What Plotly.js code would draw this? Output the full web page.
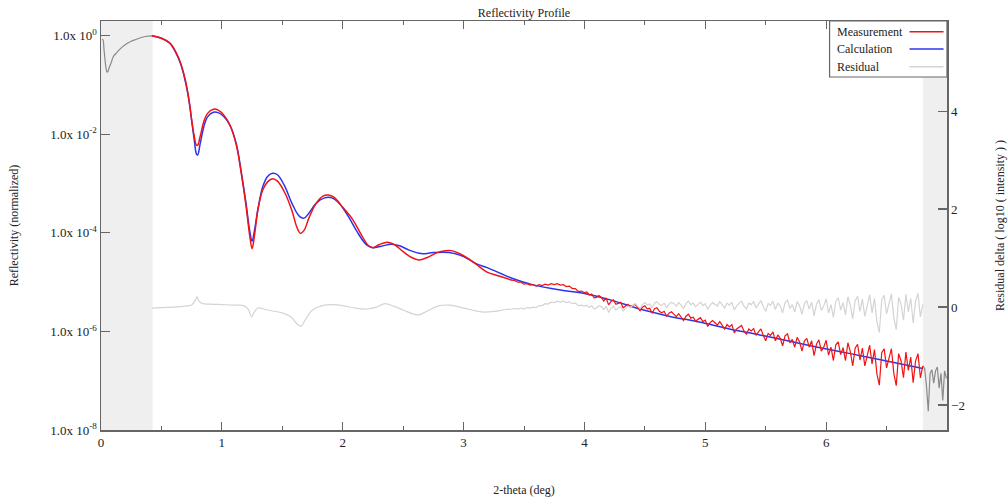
<!DOCTYPE html>
<html>
<head>
<meta charset="utf-8">
<script src="https://cdn.plot.ly/plotly-3.0.1.min.js"></script>
<style>html,body{margin:0;padding:0;background:#fff;}#chart{width:1008px;height:497px;}</style>
</head>
<body>
<div id="chart"></div>
<script>
// ---- data (reflectivity given as log10 values) ----
const calcX = [0.42,0.50,0.57,0.62,0.66,0.70,0.73,0.75,0.77,0.79,0.80,0.82,0.85,0.88,0.93,0.97,1.02,1.07,1.12,1.16,1.20,1.23,1.25,1.27,1.30,1.34,1.38,1.42,1.46,1.52,1.58,1.64,1.68,1.72,1.78,1.85,1.91,1.97,2.05,2.12,2.20,2.25,2.32,2.40,2.47,2.55,2.65,2.75,2.88,3.00,3.10,3.20,3.40,3.57,3.80,4.00,4.23,4.45,4.70,4.95,5.20,5.45,5.70,5.91,6.20,6.44,6.80];
const calcLog = [0.00,-0.05,-0.15,-0.35,-0.58,-0.95,-1.35,-1.72,-2.08,-2.40,-2.42,-2.20,-1.85,-1.65,-1.55,-1.56,-1.65,-1.83,-2.20,-2.75,-3.40,-3.95,-4.17,-3.95,-3.50,-3.05,-2.85,-2.79,-2.82,-3.05,-3.40,-3.66,-3.70,-3.60,-3.40,-3.29,-3.29,-3.40,-3.68,-3.98,-4.25,-4.30,-4.27,-4.23,-4.26,-4.35,-4.42,-4.40,-4.40,-4.48,-4.62,-4.71,-4.92,-5.05,-5.16,-5.23,-5.37,-5.54,-5.69,-5.81,-5.95,-6.07,-6.20,-6.31,-6.45,-6.57,-6.75];

const measSmoothX = [0.42,0.50,0.57,0.62,0.66,0.70,0.73,0.75,0.77,0.79,0.80,0.82,0.85,0.88,0.93,0.97,1.02,1.07,1.12,1.16,1.20,1.23,1.25,1.27,1.30,1.34,1.38,1.42,1.46,1.52,1.58,1.62,1.65,1.68,1.72,1.78,1.84,1.88,1.93,2.00,2.08,2.15,2.21,2.25,2.30,2.37,2.43,2.50,2.57,2.63,2.70,2.78,2.85,2.90,2.95,3.02,3.10,3.19,3.30,3.40];
const measSmoothLog = [0.00,-0.05,-0.15,-0.33,-0.56,-0.92,-1.33,-1.70,-2.02,-2.22,-2.22,-2.05,-1.75,-1.58,-1.49,-1.51,-1.62,-1.83,-2.22,-2.78,-3.45,-4.05,-4.32,-4.05,-3.50,-3.12,-2.96,-2.90,-2.95,-3.18,-3.55,-3.88,-4.01,-3.95,-3.70,-3.40,-3.25,-3.23,-3.28,-3.48,-3.72,-4.02,-4.25,-4.30,-4.24,-4.19,-4.24,-4.38,-4.50,-4.55,-4.50,-4.40,-4.36,-4.36,-4.40,-4.49,-4.63,-4.79,-4.88,-4.96];

const measNoisyX = [3.400,3.425,3.450,3.475,3.500,3.525,3.550,3.575,3.600,3.625,3.650,3.675,3.700,3.725,3.750,3.775,3.800,3.825,3.850,3.875,3.900,3.925,3.950,3.975,
4.00,4.02,4.04,4.06,4.08,4.10,4.12,4.14,4.16,4.18,4.20,4.22,4.24,4.26,4.28,4.30,4.32,4.34,4.36,4.38,
4.40,4.42,4.44,4.46,4.48,4.50,4.52,4.54,4.56,4.58,4.60,4.62,4.64,4.66,4.68,4.70,4.72,4.74,4.76,4.78,
4.80,4.82,4.84,4.86,4.88,4.90,4.92,4.94,4.96,4.98,5.00,5.02,5.04,5.06,5.08,5.10,5.12,5.14,5.16,5.18,
5.20,5.22,5.24,5.26,5.28,5.30,5.32,5.34,5.36,5.38,5.40,5.42,5.44,5.46,5.48,5.50,5.52,5.54,5.56,5.58,
5.60,5.62,5.64,5.66,5.68,5.70,5.72,5.74,5.76,5.78,5.80,5.82,5.84,5.86,5.88,5.90,5.92,5.94,5.96,5.98,
6.00,6.02,6.04,6.06,6.08,6.10,6.12,6.14,6.16,6.18,6.20,6.22,6.24,6.26,6.28,6.30,6.32,6.34,6.36,6.38,
6.40,6.42,6.44,6.46,6.48,6.50,6.52,6.54,6.56,6.58,6.60,6.62,6.64,6.66,6.68,6.70,6.72,6.74,6.76,6.78,6.80];
const measNoisyLog = [-4.96,-4.97,-5.00,-5.00,-5.04,-5.03,-5.06,-5.05,-5.08,-5.05,-5.07,-5.04,-5.06,-5.03,-5.05,-5.03,-5.06,-5.05,-5.09,-5.08,-5.13,-5.13,-5.19,-5.18,
-5.21,-5.20,-5.26,-5.24,-5.32,-5.31,-5.27,-5.31,-5.38,-5.32,-5.46,-5.39,-5.36,-5.45,-5.43,-5.41,-5.52,-5.49,-5.45,-5.50,
-5.47,-5.45,-5.51,-5.58,-5.51,-5.48,-5.54,-5.53,-5.63,-5.54,-5.52,-5.59,-5.62,-5.59,-5.69,-5.63,-5.60,-5.64,-5.70,-5.64,
-5.70,-5.78,-5.69,-5.65,-5.73,-5.71,-5.79,-5.75,-5.72,-5.80,-5.77,-5.90,-5.82,-5.78,-5.82,-5.87,-5.80,-5.87,-5.95,-5.86,
-5.91,-5.86,-6.03,-5.95,-5.92,-5.88,-5.99,-6.06,-5.95,-5.99,-5.94,-6.08,-6.01,-5.95,-6.08,-6.19,-6.04,-6.08,-6.01,-6.19,
-6.07,-6.14,-6.29,-6.09,-6.05,-6.23,-6.16,-6.32,-6.12,-6.21,-6.40,-6.19,-6.14,-6.32,-6.19,-6.49,-6.26,-6.17,-6.40,-6.32,
-6.18,-6.48,-6.32,-6.59,-6.27,-6.21,-6.47,-6.33,-6.59,-6.23,-6.41,-6.70,-6.34,-6.26,-6.58,-6.34,-6.70,-6.46,-6.28,-6.66,
-6.37,-6.86,-7.09,-6.43,-6.35,-6.74,-6.53,-6.35,-6.85,-7.10,-6.45,-6.60,-6.94,-6.42,-6.79,-6.52,-7.04,-6.60,-6.45,-6.94,-6.70];

const residSmoothX = [0.42,0.50,0.60,0.70,0.75,0.78,0.795,0.81,0.84,0.90,1.00,1.10,1.18,1.22,1.245,1.27,1.30,1.36,1.42,1.50,1.57,1.62,1.655,1.69,1.75,1.85,1.92,2.00,2.10,2.20,2.28,2.35,2.42,2.50,2.58,2.63,2.70,2.80,2.88,2.95,3.05,3.15,3.25,3.35,3.40];
const residSmooth = [-0.02,-0.01,0.00,0.02,0.04,0.14,0.21,0.12,0.07,0.06,0.05,0.04,0.03,-0.05,-0.20,-0.10,-0.02,-0.05,-0.08,-0.12,-0.20,-0.34,-0.39,-0.26,-0.06,0.04,0.05,0.03,-0.02,-0.04,0.00,0.07,0.02,-0.06,-0.14,-0.16,-0.08,0.03,0.04,0.01,-0.05,-0.10,-0.09,-0.05,-0.04];
const residNoisy = [-0.04,-0.03,-0.04,-0.02,-0.04,-0.01,-0.02,0.00,-0.01,0.03,0.03,0.07,0.06,0.10,0.09,0.12,0.10,0.12,0.09,0.11,0.07,0.08,0.03,0.04,
0.02,0.04,-0.01,0.03,-0.04,-0.02,0.03,0.01,-0.05,0.02,-0.11,-0.03,0.02,-0.06,-0.02,0.01,-0.08,-0.03,0.02,-0.01,
0.03,0.07,0.02,-0.03,0.05,0.09,0.04,0.06,-0.02,0.08,0.11,0.05,0.03,0.08,-0.01,0.06,0.10,0.07,0.02,0.09,
0.04,-0.03,0.07,0.12,0.05,0.08,0.01,0.06,0.10,0.03,0.07,-0.05,0.04,0.09,0.06,0.02,0.11,0.05,-0.02,0.08,
0.04,0.10,-0.06,0.03,0.07,0.12,0.02,-0.04,0.08,0.05,0.11,-0.02,0.06,0.13,0.01,-0.09,0.07,0.04,0.12,-0.05,
0.08,0.02,-0.12,0.09,0.14,-0.03,0.05,-0.10,0.11,0.03,-0.15,0.07,0.13,-0.04,0.10,-0.18,0.06,0.15,-0.07,0.02,
0.17,-0.12,0.05,-0.21,0.12,0.19,-0.06,0.09,-0.16,0.21,0.04,-0.24,0.13,0.22,-0.09,0.16,-0.19,0.06,0.25,-0.12,
0.18,-0.30,-0.52,0.15,0.24,-0.14,0.08,0.27,-0.22,-0.46,0.20,0.06,-0.27,0.26,-0.10,0.18,-0.33,0.12,0.28,-0.20,0.05];

const exclLowX = [0.008,0.016,0.025,0.036,0.045,0.052,0.060,0.069,0.088,0.100,0.130,0.157,0.185,0.212,0.250,0.295,0.340,0.378,0.420];
const exclLowLog = [-0.07,-0.08,-0.28,-0.55,-0.70,-0.74,-0.71,-0.64,-0.52,-0.43,-0.34,-0.27,-0.21,-0.16,-0.11,-0.07,-0.03,-0.01,0.00];
const exclHighX = [6.800,6.815,6.830,6.845,6.860,6.875,6.890,6.905,6.920,6.935,6.950,6.965,6.980,6.995];
const exclHighLog = [-6.70,-6.75,-7.10,-7.62,-6.85,-6.78,-7.05,-6.80,-6.72,-7.15,-6.85,-7.40,-6.80,-6.95];

const xTicks = [0,1,2,3,4,5,6];
const yTickVals = [0,-2,-4,-6,-8];
const yTickText = ['1.0x 10<sup>0</sup>','1.0x 10<sup>-2</sup>','1.0x 10<sup>-4</sup>','1.0x 10<sup>-6</sup>','1.0x 10<sup>-8</sup>'];
const y2Ticks = [-2,0,2,4];
const fitLow = 0.427, fitHigh = 6.80;
const legendNames = ['Measurement','Calculation','Residual'];

// ---- styling ----
const RED = '#f01414', BLUE = '#2b35ee', RES = '#d4d4d4', EXC = '#8a8a8a';
const AX = '#666666';
const FONT = 'Liberation Serif, Times New Roman, serif';

const traces = [
  {x: residSmoothX, y: residSmooth, yaxis:'y2', mode:'lines', line:{color:RES, width:1.2, shape:'spline'}, name:'Residual', showlegend:false, hoverinfo:'skip'},
  {x: measNoisyX, y: residNoisy, yaxis:'y2', mode:'lines', line:{color:RES, width:1.2}, name:'Residual', showlegend:false, hoverinfo:'skip'},
  {x: exclLowX, y: exclLowLog, mode:'lines', line:{color:EXC, width:1.2, shape:'spline'}, showlegend:false, hoverinfo:'skip'},
  {x: exclHighX, y: exclHighLog, mode:'lines', line:{color:EXC, width:1.2}, showlegend:false, hoverinfo:'skip'},
  {x: calcX, y: calcLog, mode:'lines', line:{color:BLUE, width:1.5, shape:'spline'}, name:'Calculation', showlegend:false},
  {x: measSmoothX, y: measSmoothLog, mode:'lines', line:{color:RED, width:1.5, shape:'spline'}, name:'Measurement', showlegend:false},
  {x: measNoisyX, y: measNoisyLog, mode:'lines', line:{color:RED, width:1.2}, name:'Measurement', showlegend:false}
];

// custom legend (symbols on the right, like the original)
const lx0 = 0.8612, lTop = 1.0, lBot = 0.8631;
const legY = [0.9738, 0.9315, 0.8883];
const legCol = [RED, BLUE, RES];
const shapes = [
  {type:'rect', xref:'x', yref:'paper', x0:0, x1:fitLow, y0:0, y1:1, fillcolor:'#efefef', line:{width:0}, layer:'below'},
  {type:'rect', xref:'x', yref:'paper', x0:fitHigh, x1:7.0, y0:0, y1:1, fillcolor:'#efefef', line:{width:0}, layer:'below'},
  {type:'rect', xref:'paper', yref:'paper', x0:lx0, x1:1.0, y0:lBot, y1:lTop, fillcolor:'#ffffff', line:{color:AX, width:1.2}, layer:'above'}
];
const annotations = [];
legendNames.forEach((n,i)=>{
  shapes.push({type:'line', xref:'paper', yref:'paper', x0:0.9557, x1:0.9959, y0:legY[i], y1:legY[i], line:{color:legCol[i], width:1.5}, layer:'above'});
  annotations.push({xref:'paper', yref:'paper', x:0.8671, y:legY[i], xanchor:'left', yanchor:'middle', text:n, showarrow:false, font:{family:FONT, size:12, color:'#222'}});
});

const layout = {
  width:1008, height:497,
  margin:{l:101, r:61, t:21, b:67, pad:0},
  paper_bgcolor:'#ffffff', plot_bgcolor:'#ffffff',
  font:{family:FONT, size:13, color:'#222'},
  showlegend:false,
  title:{text:'Reflectivity Profile', font:{family:FONT, size:12, color:'#222'}, xref:'paper', x:0.5, xanchor:'center', yref:'container', y:0.975, yanchor:'middle'},
  xaxis:{
    range:[0,7.0], tickvals:xTicks, ticks:'inside', ticklen:8, tickwidth:1.2, tickcolor:AX,
    minor:{dtick:0.5, tick0:0, ticks:'inside', ticklen:4, tickwidth:1, tickcolor:AX, showgrid:false},
    showline:true, linecolor:AX, linewidth:1.5, mirror:'ticks', showgrid:false, zeroline:false,
    tickfont:{family:FONT, size:13, color:'#222'},
    title:{text:'2-theta (deg)', font:{family:FONT, size:12, color:'#222'}, standoff:38}
  },
  yaxis:{
    range:[-8,0.3], tickvals:yTickVals, ticktext:yTickText, ticks:'inside', ticklen:9, tickwidth:1.2, tickcolor:AX,
    showline:true, linecolor:AX, linewidth:1.5, showgrid:false, zeroline:false,
    tickfont:{family:FONT, size:13, color:'#222'},
    title:{text:'Reflectivity (normalized)', font:{family:FONT, size:12, color:'#222'}, standoff:29}
  },
  yaxis2:{
    overlaying:'y', side:'right', range:[-2.51,5.84], tickvals:y2Ticks, ticks:'inside', ticklen:9, tickwidth:1.2, tickcolor:AX,
    showline:true, linecolor:AX, linewidth:1.5, showgrid:false, zeroline:false,
    tickfont:{family:FONT, size:13, color:'#222'},
    title:{text:'Residual delta ( log10 ( intensity ) )', font:{family:FONT, size:12, color:'#222'}, standoff:31}
  },
  shapes:shapes,
  annotations:annotations
};

Plotly.newPlot('chart', traces, layout, {staticPlot:true, displayModeBar:false});
</script>
</body>
</html>
